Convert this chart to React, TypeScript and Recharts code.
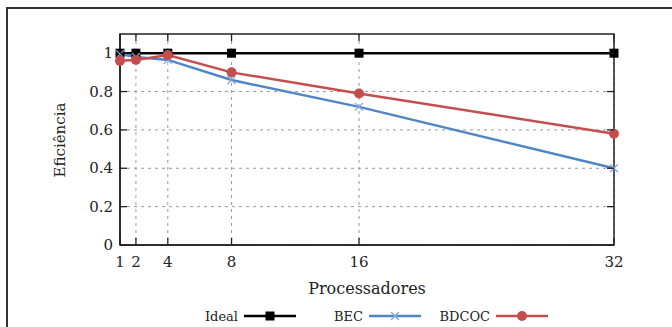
import React from "react"
import { LineChart, Line, XAxis, YAxis, CartesianGrid, ReferenceArea } from "recharts"

const processadores = [1, 2, 4, 8, 16, 32]
const ideal = [1, 1, 1, 1, 1, 1]
const bec = [0.995, 0.98, 0.965, 0.86, 0.72, 0.4]
const bdcoc = [0.96, 0.965, 0.99, 0.9, 0.79, 0.58]
const yTicks = [0, 0.2, 0.4, 0.6, 0.8, 1]

const data = processadores.map((p, i) => ({ p, ideal: ideal[i], bec: bec[i], bdcoc: bdcoc[i] }))

const FONT = "'DejaVu Serif', serif"
const BLUE = "#4f86c8"
const RED = "#c44e4e"
const PLOT = { left: 120, right: 614, top: 34, bottom: 245 }

const YTick = (props: any) => {
  const { y, payload } = props
  return (
    <g>
      <line x1={PLOT.left} x2={PLOT.left + 7} y1={y} y2={y} stroke="#222" strokeWidth={1.3} />
      <line x1={PLOT.right - 7} x2={PLOT.right} y1={y} y2={y} stroke="#222" strokeWidth={1.3} />
      <text x={PLOT.left - 7} y={y} textAnchor="end" dominantBaseline="central" fontFamily={FONT} fontSize={15} fill="#222">
        {payload.value === 1 ? "1" : payload.value === 0 ? "0" : payload.value.toFixed(1)}
      </text>
    </g>
  )
}

const XTick = (props: any) => {
  const { x, payload } = props
  return (
    <g>
      <line x1={x} x2={x} y1={PLOT.bottom} y2={PLOT.bottom - 7} stroke="#222" strokeWidth={1.3} />
      <line x1={x} x2={x} y1={PLOT.top} y2={PLOT.top + 7} stroke="#222" strokeWidth={1.3} />
      <text x={x} y={PLOT.bottom + 17} textAnchor="middle" dominantBaseline="central" fontFamily={FONT} fontSize={15} fill="#222">
        {payload.value}
      </text>
    </g>
  )
}

const SquareDot = (props: any) => {
  const { cx, cy } = props
  if (cx == null) return null
  return <rect x={cx - 4.5} y={cy - 4.5} width={9} height={9} fill="#000" />
}

const CrossDot = (props: any) => {
  const { cx, cy } = props
  if (cx == null) return null
  return (
    <g stroke="#7fa8dc" strokeWidth={1.2}>
      <line x1={cx - 4} y1={cy - 4} x2={cx + 4} y2={cy + 4} />
      <line x1={cx - 4} y1={cy + 4} x2={cx + 4} y2={cy - 4} />
    </g>
  )
}

const CircleDot = (props: any) => {
  const { cx, cy } = props
  if (cx == null) return null
  return <circle cx={cx} cy={cy} r={5} fill={RED} />
}

const legendItems = [
  { name: "Ideal", color: "#000", x: 203, w: 35, marker: "square" },
  { name: "BEC", color: BLUE, x: 334, w: 29, marker: "cross" },
  { name: "BDCOC", color: RED, x: 439, w: 51, marker: "circle" },
]

export default function App() {
  return (
    <div style={{ position: "absolute", left: 0, top: 0, width: 672, height: 327, overflow: "hidden", background: "#fff" }}>
      <div style={{ position: "absolute", left: 6, top: 7, width: 800, height: 500, border: "2px solid #333" }} />
      <LineChart width={672} height={327} data={data} margin={{ top: PLOT.top, right: 672 - PLOT.right, bottom: 327 - PLOT.bottom - 30, left: 60 }}>
        <CartesianGrid stroke="#999" strokeDasharray="3 4" verticalValues={processadores} horizontalValues={yTicks} />
        <XAxis
          dataKey="p"
          type="number"
          domain={[1, 32]}
          ticks={processadores}
          height={30}
          tickLine={false}
          axisLine={{ stroke: "#222", strokeWidth: 1.5 }}
          tick={<XTick />}
        />
        <YAxis
          type="number"
          domain={[0, 1.1]}
          ticks={yTicks}
          width={60}
          tickLine={false}
          axisLine={{ stroke: "#222", strokeWidth: 1.5 }}
          tick={<YTick />}
          allowDataOverflow
        />
        <ReferenceArea x1={1} x2={32} y1={0} y2={1.1} fill="none" stroke="#222" strokeWidth={1.5} ifOverflow="visible" />
        <Line dataKey="ideal" stroke="#000" strokeWidth={2.5} dot={<SquareDot />} isAnimationActive={false} />
        <Line dataKey="bec" stroke={BLUE} strokeWidth={2.5} dot={<CrossDot />} isAnimationActive={false} />
        <Line dataKey="bdcoc" stroke={RED} strokeWidth={2.5} dot={<CircleDot />} isAnimationActive={false} />
      </LineChart>
      <div style={{ position: "absolute", left: 0, top: 279, width: 672, textAlign: "center", paddingLeft: 62, boxSizing: "border-box", fontFamily: FONT, fontSize: 16, color: "#222" }}>
        Processadores
      </div>
      <div style={{ position: "absolute", left: 60, top: 140, transform: "translate(-50%, -50%) rotate(-90deg)", fontFamily: FONT, fontSize: 15, color: "#222", whiteSpace: "nowrap" }}>
        Eficiência
      </div>
      <svg style={{ position: "absolute", left: 0, top: 305 }} width={672} height={22}>
        {legendItems.map((it) => {
          const lx = it.x + it.w + 6
          const mx = lx + 26
          return (
            <g key={it.name}>
              <text x={it.x + it.w} y={11} textAnchor="end" dominantBaseline="central" fontFamily={FONT} fontSize={13} fill="#222">
                {it.name}
              </text>
              <line x1={lx} x2={lx + 52} y1={11} y2={11} stroke={it.color} strokeWidth={2.5} />
              {it.marker === "square" && <rect x={mx - 4.5} y={6.5} width={9} height={9} fill="#000" />}
              {it.marker === "cross" && (
                <g stroke="#7fa8dc" strokeWidth={1.2}>
                  <line x1={mx - 4} y1={7} x2={mx + 4} y2={15} />
                  <line x1={mx - 4} y1={15} x2={mx + 4} y2={7} />
                </g>
              )}
              {it.marker === "circle" && <circle cx={mx} cy={11} r={5} fill={RED} />}
            </g>
          )
        })}
      </svg>
    </div>
  )
}
